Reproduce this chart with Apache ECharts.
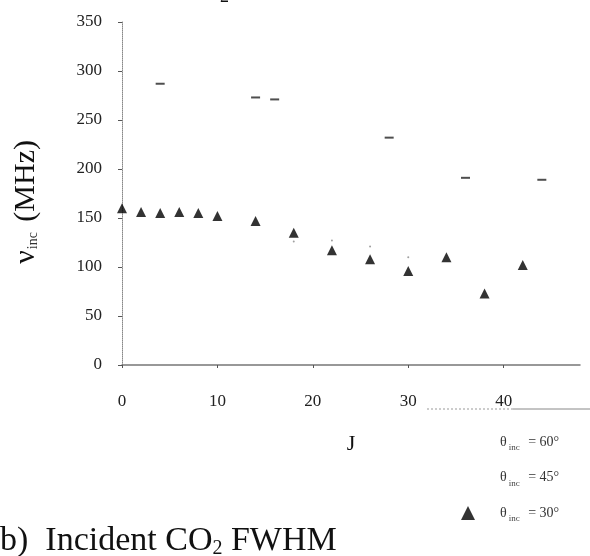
<!DOCTYPE html>
<html>
<head>
<meta charset="utf-8">
<script src="https://cdn.jsdelivr.net/npm/echarts@6/dist/echarts.min.js"></script>
<style>
  html, body { margin: 0; padding: 0; background: #fff; }
  #chart { width: 590px; height: 556px; }
</style>
</head>
<body>
<div id="chart"></div>
<script>
// theta_inc = 60 (dash markers, top)
var j60 = [4, 14, 16, 28, 36, 44];
var v60 = [287, 273, 271, 232, 191, 189];
// theta_inc = 45 (faint, mostly hidden)
var j45 = [18, 22, 26, 30];
var v45 = [126, 127, 121, 110];
// theta_inc = 30 (triangles)
var j30 = [0, 2, 4, 6, 8, 10, 14, 18, 22, 26, 30, 34, 38, 42];
var v30 = [160, 156, 155, 156, 155, 152, 147, 135, 117, 108, 96, 110, 73, 102];

var seriesNames = ['θ60', 'θ45', 'θ30'];
var legendLabels = ['60°', '45°', '30°'];

function pairs(xs, ys) {
  return xs.map(function (x, i) { return [x, ys[i]]; });
}

var serif = 'Liberation Serif';

var option = {
  animation: false,
  backgroundColor: '#fff',
  grid: {
    left: 122,
    right: 10,
    top: 22,
    bottom: 191
  },
  legend: {
    orient: 'vertical',
    left: 456,
    top: 430,
    itemGap: 18,
    itemWidth: 14,
    itemHeight: 14,
    data: [
      { name: seriesNames[0], icon: 'rect', itemStyle: { opacity: 0 } },
      { name: seriesNames[1], icon: 'rect', itemStyle: { opacity: 0 } },
      { name: seriesNames[2], icon: 'triangle' }
    ],
    formatter: function (name) {
      var i = seriesNames.indexOf(name);
      return '{t|θ}{s|inc}{t| = ' + legendLabels[i] + '}';
    },
    textStyle: {
      fontFamily: serif,
      color: '#333',
      padding: [0, 0, 0, 20],
      rich: {
        t: { fontFamily: serif, fontSize: 14, color: '#333' },
        s: { fontFamily: serif, fontSize: 9, color: '#444', padding: [12, 5, 0, 2] }
      }
    }
  },
  xAxis: {
    type: 'value',
    min: 0,
    max: 48,
    interval: 10,
    name: 'J',
    nameLocation: 'middle',
    nameGap: 68,
    nameTextStyle: { fontFamily: serif, fontSize: 22, color: '#111' },
    splitLine: { show: false },
    axisLine: { lineStyle: { color: '#777', width: 1.5 } },
    axisTick: { show: true, length: 3, lineStyle: { color: '#555' } },
    axisLabel: {
      fontFamily: serif,
      fontSize: 17,
      color: '#222',
      margin: 28,
      showMaxLabel: false,
      formatter: function (v) { return v % 10 === 0 ? String(v) : ''; }
    }
  },
  yAxis: {
    type: 'value',
    min: 0,
    max: 350,
    interval: 50,
    splitLine: { show: false },
    axisLine: { show: true, lineStyle: { color: '#888', type: 'dotted', width: 1 } },
    axisTick: { show: true, length: 4, lineStyle: { color: '#555' } },
    axisLabel: { fontFamily: serif, fontSize: 17, color: '#222', margin: 20 }
  },
  series: [
    {
      name: seriesNames[0],
      type: 'scatter',
      data: pairs(j60, v60),
      symbol: 'rect',
      symbolSize: [9, 2],
      itemStyle: { color: '#222' }
    },
    {
      name: seriesNames[1],
      type: 'scatter',
      data: pairs(j45, v45),
      symbol: 'circle',
      symbolSize: 2,
      itemStyle: { color: '#888' }
    },
    {
      name: seriesNames[2],
      type: 'scatter',
      data: pairs(j30, v30),
      symbol: 'triangle',
      symbolSize: 10,
      itemStyle: { color: '#000' }
    }
  ],
  graphic: [
    {
      type: 'text',
      left: 11,
      top: 140,
      rotation: Math.PI / 2,
      style: {
        text: '{n|ν}{s|inc}{n| (MHz)}',
        rich: {
          n: { fontFamily: serif, fontSize: 30, fill: '#111' },
          s: { fontFamily: serif, fontSize: 14, fill: '#333', padding: [14, 3, 0, 1] }
        }
      }
    },
    {
      type: 'line',
      shape: { x1: 427, y1: 409, x2: 513, y2: 409 },
      style: { stroke: '#999', lineWidth: 1, lineDash: [2, 2] }
    },
    {
      type: 'line',
      shape: { x1: 513, y1: 409, x2: 590, y2: 409 },
      style: { stroke: '#888', lineWidth: 1 }
    },
    {
      type: 'text',
      left: 0,
      top: 524,
      style: {
        text: 'b)  Incident CO{s|2} FWHM',
        fontFamily: serif,
        fontSize: 34,
        fill: '#111',
        rich: {
          s: { fontFamily: serif, fontSize: 20, fill: '#111', padding: [16, 0, 0, 0] }
        }
      }
    },
    {
      type: 'text',
      left: 220,
      top: -12,
      style: { text: '2', fontFamily: serif, fontSize: 18, fill: '#111' }
    }
  ]
};

var myChart = echarts.init(document.getElementById('chart'));
myChart.setOption(option);
</script>
</body>
</html>
